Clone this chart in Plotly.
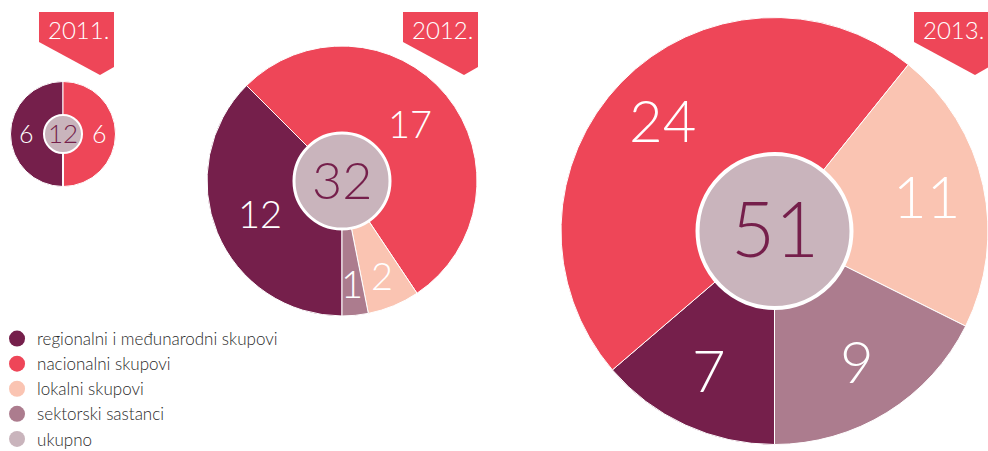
import math
import plotly.graph_objects as go

W, H = 988, 451

# ---------------- data ----------------
years = ["2011.", "2012.", "2013."]
categories = ["regionalni i međunarodni skupovi", "nacionalni skupovi",
              "lokalni skupovi", "sektorski sastanci"]
total_name = "ukupno"
values_2011 = [6, 6, 0, 0]
values_2012 = [12, 17, 2, 1]
values_2013 = [7, 24, 11, 9]

# ---------------- style ----------------
colors = ["#751F4B", "#EE4658", "#FAC4B2", "#AC7C8E"]
total_color = "#C9B4BC"
banner_color = "#EE4658"
text_dark = "#751F4B"
FONT = "Lato"

# per-year layout: centre x, centre y, radius, inner radius, label size, centre size,
# label radius fraction (large / small slices), inner border width
geom = [
    dict(cx=63, cy=134, r=52.5, ri=19, ls=25, cs=26, lf=0.69, lfs=0.77, bw=2),
    dict(cx=342, cy=181, r=135, ri=48, ls=38, cs=52, lf=0.655, lfs=0.77, bw=3),
    dict(cx=774.5, cy=231, r=213.5, ri=77, ls=58, cs=76, lf=0.73, lfs=0.77, bw=4),
]
banner_left = [39, 403, 914]
all_values = [values_2011, values_2012, values_2013]
LIFT = 0.045  # raise digits so their visual centre sits on the anchor


def px(x):
    return x / W


def py(y):
    return 1 - y / H


fig = go.Figure()
annotations = []
shapes = []

for vals, g in zip(all_values, geom):
    cx, cy, r = g["cx"], g["cy"], g["r"]
    fig.add_trace(go.Pie(
        labels=categories, values=vals, sort=False, direction="clockwise",
        rotation=180, marker=dict(colors=colors, line=dict(color="white", width=1)),
        textinfo="none", hoverinfo="label+value", showlegend=False,
        domain=dict(x=[max(0, px(cx - r)), min(1, px(cx + r))],
                    y=[py(cy + r), py(cy - r)]),
    ))
    # slice labels
    total = sum(vals)
    start = 180.0
    for v in vals:
        if v <= 0:
            continue
        share = v / total
        span = 360.0 * share
        mid = math.radians(start + span / 2)
        rho = (g["lfs"] if share < 0.1 else g["lf"]) * r
        lx = cx + rho * math.sin(mid)
        ly = cy - rho * math.cos(mid) - LIFT * g["ls"]
        annotations.append(dict(x=px(lx), y=py(ly), xref="paper", yref="paper",
                                text=str(v), showarrow=False,
                                font=dict(family=FONT, size=g["ls"], color="white", weight=300),
                                xanchor="center", yanchor="middle"))
        start += span

for vals, g in zip(all_values, geom):
    cx, cy, ri = g["cx"], g["cy"], g["ri"]
    total = sum(vals)
    fig.add_trace(go.Pie(
        labels=[total_name], values=[total], sort=False,
        marker=dict(colors=[total_color], line=dict(color="white", width=g["bw"])),
        textinfo="none", hoverinfo="label+value", showlegend=False,
        domain=dict(x=[px(cx - ri), px(cx + ri)], y=[py(cy + ri), py(cy - ri)]),
    ))
    annotations.append(dict(x=px(cx), y=py(cy - LIFT * g["cs"]), xref="paper", yref="paper",
                            text=str(total), showarrow=False,
                            font=dict(family=FONT, size=g["cs"], color=text_dark, weight=300),
                            xanchor="center", yanchor="middle"))

# year banners
for yr, bl in zip(years, banner_left):
    pts = [(bl, 12), (bl + 75, 12), (bl + 75, 67), (bl + 61, 75), (bl, 42)]
    path = "M " + " L ".join(f"{px(x):.5f},{py(y):.5f}" for x, y in pts) + " Z"
    shapes.append(dict(type="path", xref="paper", yref="paper", path=path,
                       fillcolor=banner_color, line=dict(width=0), layer="above"))
    annotations.append(dict(x=px(bl + 39), y=py(29), xref="paper", yref="paper",
                            text=yr, showarrow=False,
                            font=dict(family=FONT, size=24, color="white", weight=300),
                            xanchor="center", yanchor="middle"))

# legend entries
for name, col in zip(categories + [total_name], colors + [total_color]):
    fig.add_trace(go.Scatter(x=[None], y=[None], mode="markers", name=name,
                             legendgroup=name,
                             marker=dict(size=18, color=col, symbol="circle"),
                             hoverinfo="skip", showlegend=True))

fig.update_layout(
    width=W, height=H,
    margin=dict(l=0, r=0, t=0, b=0, autoexpand=False),
    paper_bgcolor="white", plot_bgcolor="white",
    xaxis=dict(visible=False), yaxis=dict(visible=False),
    shapes=shapes, annotations=annotations,
    legend=dict(x=-0.003, y=py(321), xanchor="left", yanchor="top",
                font=dict(family=FONT, size=17, color="#2A2A2A", weight=300),
                bgcolor="rgba(0,0,0,0)", itemsizing="trace", tracegroupgap=0),
    showlegend=True,
)

fig.write_html("out.html", config={"displayModeBar": False},
               post_script="document.body.style.margin='0';")
